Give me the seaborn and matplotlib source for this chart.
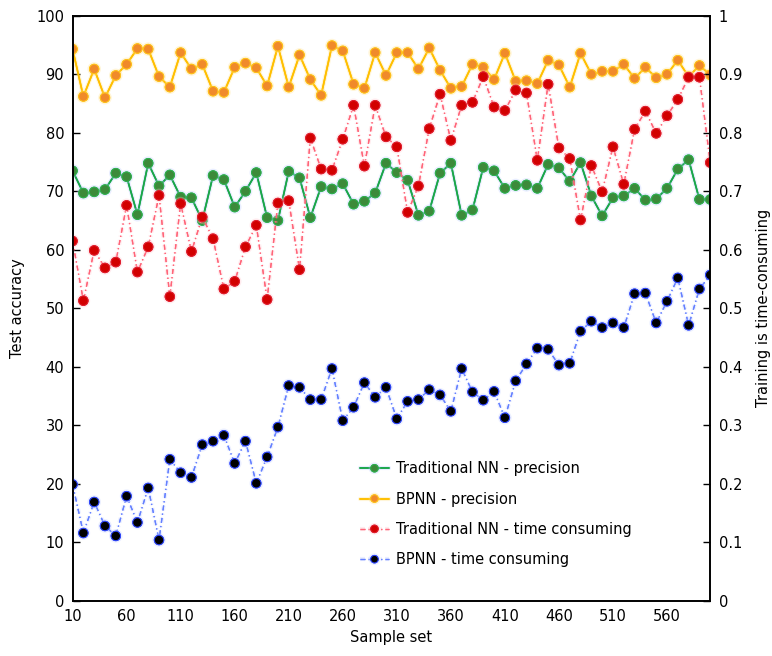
import matplotlib

matplotlib.use("Agg")

import matplotlib.pyplot as plt  # noqa: E402
import matplotlib.patheffects as pe  # noqa: E402
import numpy as np  # noqa: E402
import pandas as pd  # noqa: E402
import seaborn as sns  # noqa: E402

# sample sets 10, 20, ..., 600
sample_set = list(range(10, 601, 10))

nn_precision = [
    73.5, 69.7, 69.9, 70.3, 73.1, 72.5, 66.0, 74.8, 70.9, 72.8,
    69.0, 68.9, 65.0, 72.7, 72.0, 67.3, 70.0, 73.2, 65.5, 65.0,
    73.4, 72.3, 65.5, 70.8, 70.4, 71.3, 67.8, 68.3, 69.7, 74.8,
    73.2, 71.9, 65.9, 66.6, 73.1, 74.8, 65.9, 66.8, 74.1, 73.5,
    70.5, 71.0, 71.1, 70.5, 74.6, 74.0, 71.7, 74.9, 69.2, 65.8,
    68.9, 69.2, 70.5, 68.5, 68.7, 70.5, 73.8, 75.4, 68.6, 68.6,
]
bpnn_precision = [
    94.3, 86.2, 90.9, 86.0, 89.8, 91.7, 94.4, 94.3, 89.6, 87.8,
    93.7, 90.9, 91.7, 87.1, 86.9, 91.2, 91.9, 91.1, 88.0, 94.8,
    87.8, 93.3, 89.1, 86.4, 94.9, 94.0, 88.3, 87.6, 93.7, 89.8,
    93.7, 93.7, 90.9, 94.5, 90.7, 87.6, 87.9, 91.7, 91.2, 89.1,
    93.6, 88.8, 88.9, 88.4, 92.4, 91.6, 87.8, 93.6, 90.0, 90.5,
    90.5, 91.7, 89.3, 91.2, 89.4, 90.0, 92.4, 89.6, 91.5, 89.9,
]
nn_time = [
    0.615, 0.513, 0.599, 0.569, 0.579, 0.676, 0.562, 0.605, 0.693, 0.520,
    0.679, 0.597, 0.656, 0.619, 0.533, 0.546, 0.605, 0.642, 0.515, 0.680,
    0.684, 0.566, 0.791, 0.738, 0.736, 0.789, 0.847, 0.743, 0.847, 0.793,
    0.776, 0.664, 0.709, 0.807, 0.866, 0.787, 0.847, 0.852, 0.896, 0.844,
    0.838, 0.873, 0.868, 0.753, 0.883, 0.774, 0.756, 0.651, 0.744, 0.699,
    0.776, 0.712, 0.806, 0.837, 0.799, 0.829, 0.857, 0.895, 0.895, 0.749,
]
bpnn_time = [
    0.199, 0.116, 0.169, 0.128, 0.111, 0.179, 0.134, 0.193, 0.104, 0.242,
    0.219, 0.211, 0.267, 0.273, 0.283, 0.235, 0.273, 0.201, 0.246, 0.297,
    0.368, 0.365, 0.344, 0.344, 0.397, 0.308, 0.331, 0.373, 0.348, 0.365,
    0.311, 0.341, 0.344, 0.361, 0.352, 0.324, 0.397, 0.357, 0.343, 0.358,
    0.313, 0.376, 0.405, 0.432, 0.430, 0.403, 0.406, 0.461, 0.478, 0.467,
    0.475, 0.467, 0.525, 0.526, 0.475, 0.512, 0.552, 0.471, 0.533, 0.557,
]

df = pd.DataFrame(
    {
        "sample": sample_set,
        "nn_precision": nn_precision,
        "bpnn_precision": bpnn_precision,
        "nn_time": nn_time,
        "bpnn_time": bpnn_time,
    }
)

sns.set_style("white")
plt.rcParams["font.family"] = ["DejaVu Sans"]
plt.rcParams["font.size"] = 10
plt.rcParams["text.color"] = "black"
plt.rcParams["axes.labelcolor"] = "black"

fig = plt.figure(figsize=(7.72, 6.56), dpi=100)
ax = fig.add_axes([0.094, 0.084, 0.826, 0.892])
ax2 = ax.twinx()

DASHDOT = (0, (4, 2.5, 1, 2.5))


def _draw(axis, col, label, line_color, face, edge, ls, lw, glow):
    sns.lineplot(
        data=df,
        x="sample",
        y=col,
        ax=axis,
        color=line_color,
        linestyle=ls,
        linewidth=lw,
        marker="o",
        markersize=6.8,
        markerfacecolor=face,
        markeredgecolor=edge,
        markeredgewidth=0.7,
        label=label,
        legend=False,
        path_effects=[pe.withStroke(linewidth=3, foreground=glow, alpha=0.3), pe.Normal()],
    )


_draw(ax, "nn_precision", "Traditional NN - precision", "#1aa64a", "#3c8a3a", "#2fb050", "-", 1.2, "#b8c8ff")
_draw(ax, "bpnn_precision", "BPNN - precision", "#ffbf00", "#f08a2a", "#ffc21a", "-", 1.2, "#ffe080")
_draw(ax2, "nn_time", "Traditional NN - time consuming", "#ff6478", "#d20000", "#e02030", DASHDOT, 0.9, "#ffc0c8")
_draw(ax2, "bpnn_time", "BPNN - time consuming", "#6480ff", "#000000", "#3048ff", DASHDOT, 0.9, "#c0ccff")

ax.set_xlim(10, 600)
ax.set_ylim(0, 100)
ax2.set_ylim(0, 1)
ax.set_xticks(range(10, 600, 50))
ax.set_yticks(range(0, 101, 10))
ax2.set_yticks(np.arange(0, 1.01, 0.1))
ax2.set_yticklabels(["0", "0.1", "0.2", "0.3", "0.4", "0.5", "0.6", "0.7", "0.8", "0.9", "1"])

for a in (ax, ax2):
    for s in a.spines.values():
        s.set_color("black")
        s.set_linewidth(1.2)
ax.tick_params(axis="both", direction="in", length=5, width=1, colors="black",
               labelcolor="black", labelsize=10.5, pad=6)
ax2.tick_params(axis="y", direction="in", length=5, width=1, colors="black",
                labelcolor="black", labelsize=10.5, pad=6)
ax.tick_params(axis="x", top=False)
ax.grid(False)
ax2.grid(False)

ax.set_xlabel("Sample set", fontsize=10.5, labelpad=4)
ax.set_ylabel("Test accuracy", fontsize=10.5, labelpad=8)
ax2.set_ylabel("Training is time-consuming", fontsize=10.5, labelpad=10)

handles = ax.get_lines() + ax2.get_lines()
leg = ax.legend(
    handles,
    [h.get_label() for h in handles],
    loc="lower left",
    bbox_to_anchor=(0.43, 0.035),
    frameon=False,
    fontsize=10.5,
    handlelength=2.0,
    labelspacing=1.05,
    handletextpad=0.5,
    markerscale=0.8,
)
for t in leg.get_texts():
    t.set_color("black")

fig.savefig("out.png", dpi=100)
